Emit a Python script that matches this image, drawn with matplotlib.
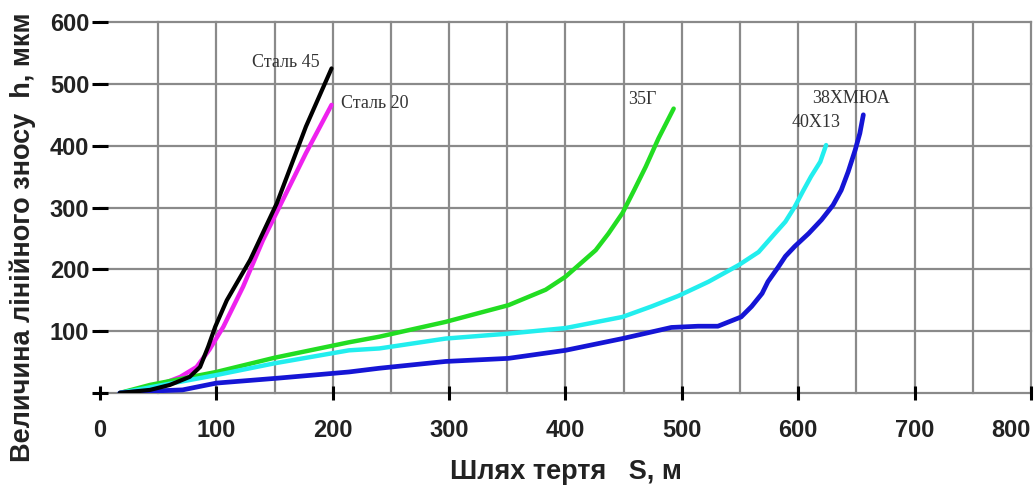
import matplotlib
matplotlib.use('Agg')
import matplotlib.pyplot as plt

# wear h (мкм) vs friction path S (м)
s45_x = [17, 43, 60, 77, 86, 93, 99, 109, 129, 152, 177, 199]
s45_y = [0, 5, 13, 26, 42, 75, 107, 150, 215, 307, 431, 525]

s20_x = [17, 51, 69, 83, 94, 106, 123, 140, 177, 199]
s20_y = [0, 13, 26, 42, 70, 107, 172, 247, 388, 466]

g35_x = [17, 43, 100, 150, 214, 240, 297, 351, 383, 400, 426, 437, 449, 459, 469, 480, 493]
g35_y = [0, 13, 34, 57, 82, 91, 115, 142, 167, 188, 231, 258, 291, 328, 366, 412, 460]

x13_x = [17, 100, 150, 214, 240, 297, 351, 400, 449, 474, 497, 514, 523, 549, 566, 580, 589, 597, 604, 611, 619, 624]
x13_y = [0, 29, 48, 69, 72, 88, 96, 105, 123, 140, 157, 172, 180, 207, 228, 258, 277, 301, 326, 350, 374, 401]

xm_x = [17, 43, 71, 100, 153, 214, 240, 297, 351, 400, 449, 491, 514, 531, 551, 560, 569, 574,
        583, 589, 597, 609, 620, 630, 637, 643, 649, 653, 656]
xm_y = [0, 3, 5, 16, 24, 34, 40, 51, 56, 69, 88, 106, 108, 108, 123, 140, 161, 180,
        204, 221, 237, 258, 280, 304, 328, 358, 393, 420, 450]

xticks = [0, 100, 200, 300, 400, 500, 600, 700, 800]
yticks = [0, 100, 200, 300, 400, 500, 600]
ytick_labels = ['', '100', '200', '300', '400', '500', '600']

fig = plt.figure(figsize=(10.34, 4.9), dpi=100)
ax = fig.add_axes([0.0967, 0.198, 0.9003, 0.757])

# grid: every 50 m along x, every 100 мкм along y
for gx in range(50, 801, 50):
  ax.axvline(gx, color='#8a8a8a', lw=1.6, zorder=1, clip_on=False)
for gy in yticks:
  ax.axhline(gy, color='#8a8a8a', lw=1.6, zorder=1, clip_on=False)

ax.plot(s45_x, s45_y, color='black', lw=3, zorder=4, solid_capstyle='round')
ax.plot(s20_x, s20_y, color='#ee22ee', lw=3.2, zorder=3, solid_capstyle='round')
ax.plot(g35_x, g35_y, color='#22dd22', lw=3.2, zorder=3, solid_capstyle='round')
ax.plot(x13_x, x13_y, color='#22eeee', lw=3.2, zorder=3, solid_capstyle='round')
ax.plot(xm_x, xm_y, color='#1515d5', lw=3.4, zorder=3, solid_capstyle='round')

lab = dict(family='Liberation Serif', fontsize=13, color='#333333', va='center')
ax.text(189, 535, 'Сталь 45', ha='right', **lab)
ax.text(207, 469, 'Сталь 20', ha='left', **lab)
ax.text(454, 474, '35Г', ha='left', **lab)
ax.text(612, 477, '38ХМЮА', ha='left', **lab)
ax.text(594, 437, '40Х13', ha='left', **lab)

ax.set_xlim(0, 800)
ax.set_ylim(0, 600)
for sp in ax.spines.values():
  sp.set_visible(False)

ax.set_xticks(xticks)
ax.set_xticklabels([str(v) for v in xticks])
ax.set_yticks(yticks)
ax.set_yticklabels(ytick_labels)
ax.tick_params(axis='y', direction='inout', length=11.5, width=2.2, pad=2,
               labelsize=17, colors='black')
ax.tick_params(axis='x', direction='inout', length=10, width=2.2, pad=14,
               labelsize=17, colors='black')
for t in ax.get_xticklabels() + ax.get_yticklabels():
  t.set_family('Liberation Sans')
  t.set_weight('bold')
  t.set_color('#222222')
ax.get_xticklabels()[-1].set_ha('right')

fig.text(0.022, 0.516, 'Величина лінійного зносу  h, мкм', rotation=90,
         ha='center', va='center', family='Liberation Sans', weight='bold',
         fontsize=19.5, color='#222222')
fig.text(0.547, 0.036, 'Шлях тертя   S, м', ha='center', va='center',
         family='Liberation Sans', weight='bold', fontsize=19.5, color='#222222')

plt.savefig('out.png', dpi=100)
